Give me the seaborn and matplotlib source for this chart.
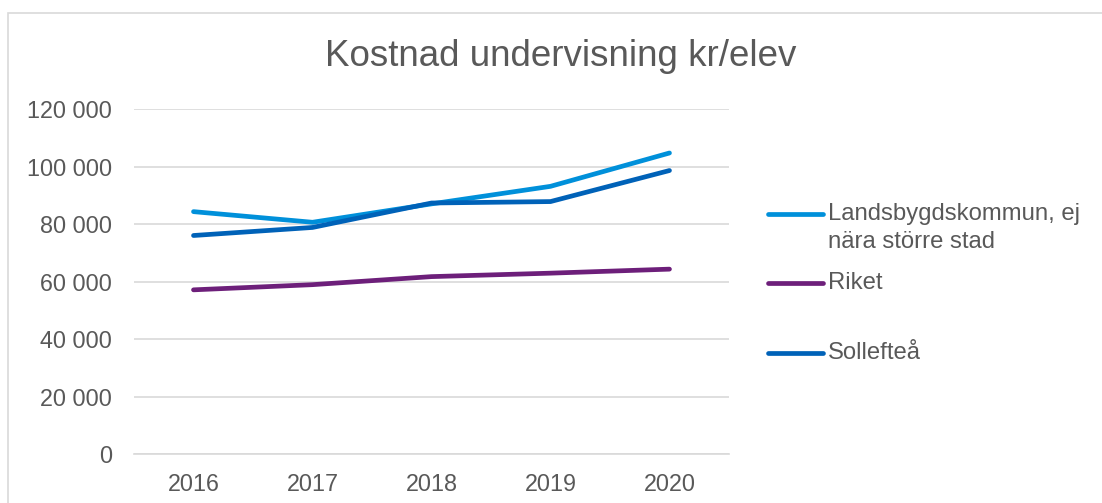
import pandas as pd
import matplotlib.pyplot as plt
import seaborn as sns
from matplotlib.lines import Line2D
from matplotlib.patches import Rectangle
from matplotlib.ticker import FuncFormatter

# Data
years = [2016, 2017, 2018, 2019, 2020]
landsbygd = [84300, 80600, 87000, 93100, 104700]
riket = [57100, 58900, 61700, 62900, 64300]
solleftea = [76000, 78800, 87300, 87800, 98600]

series_names = ["Landsbygdskommun, ej\nnära större stad", "Riket", "Sollefteå"]
series_colors = ["#0090DA", "#6D1F7A", "#0062B8"]
yticks = [0, 20000, 40000, 60000, 80000, 100000, 120000]

df = pd.DataFrame({
    "År": years * 3,
    "Kostnad": landsbygd + riket + solleftea,
    "Serie": [n for n in series_names for _ in years],
})

sns.set_style("white")
plt.rcParams["font.family"] = ["Liberation Sans", "DejaVu Sans"]
text_color = "#595959"
grid_color = "#D9D9D9"

fig = plt.figure(figsize=(11.02, 5.03), dpi=100)
ax = fig.add_axes([0.1216, 0.0974, 0.5399, 0.6859])

sns.lineplot(data=df, x="År", y="Kostnad", hue="Serie", hue_order=series_names,
             palette=dict(zip(series_names, series_colors)), linewidth=3.4,
             legend=False, ax=ax, solid_capstyle="round")

ax.set_xlim(2015.5, 2020.5)
ax.set_ylim(0, 120000)
ax.set_xticks(years)
ax.set_yticks(yticks)
ax.yaxis.set_major_formatter(FuncFormatter(lambda v, p: f"{int(v):,}".replace(",", " ")))
ax.tick_params(axis="both", length=0, labelsize=16.8, labelcolor=text_color)
ax.tick_params(axis="y", pad=16)
ax.tick_params(axis="x", pad=14)
ax.set_xlabel("")
ax.set_ylabel("")
ax.grid(axis="y", color=grid_color, linewidth=1.2)
ax.set_axisbelow(True)
for side in ["left", "right", "top"]:
    ax.spines[side].set_visible(False)
ax.spines["bottom"].set_color(grid_color)
ax.spines["bottom"].set_linewidth(1.2)

fig.text(0.509, 1 - 57 / 503, "Kostnad undervisning kr/elev", ha="center", va="center",
         fontsize=26.5, color=text_color)

# legend, first line of each label next to its handle
legend_rows = [214, 283, 353]
for name, color, row in zip(series_names, series_colors, legend_rows):
    yf = 1 - row / 503
    fig.add_artist(Line2D([768 / 1102, 823 / 1102], [yf, yf], color=color,
                          linewidth=3.4, solid_capstyle="round"))
    fig.text(828 / 1102, yf + 0.022, name, ha="left", va="top", fontsize=17.2,
             color=text_color, linespacing=1.33)

# chart frame
fig.add_artist(Rectangle((8 / 1102, -0.2), 1.0, 1.2 - 13 / 503, fill=False,
                         edgecolor=grid_color, linewidth=1.2))

plt.savefig("out.png", dpi=100)
